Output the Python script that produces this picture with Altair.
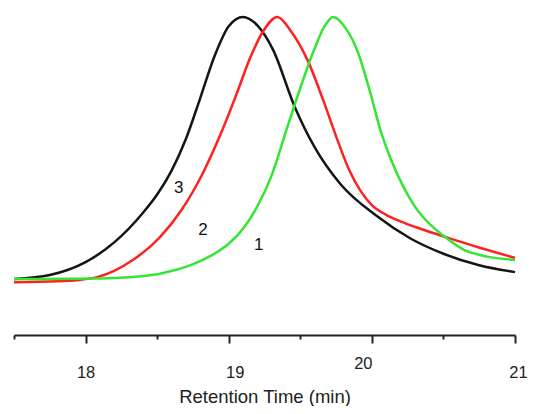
import altair as alt
import pandas as pd

# Curve 3 (black)
time_3 = [17.50, 17.75, 18.00, 18.20, 18.40, 18.50, 18.60, 18.70, 18.80, 18.90, 19.00, 19.10,
          19.20, 19.31, 19.46, 19.60, 19.78, 20.03, 20.27, 20.50, 20.75, 21.00]
signal_3 = [0.4, 1.9, 6.8, 14.3, 25.5, 32.5, 41.5, 53.5, 69.0, 85.0, 96.5, 100,
            96.8, 87.5, 66.0, 50.5, 36.5, 24.5, 15.8, 10.0, 5.6, 3.0]
# Curve 2 (red)
time_2 = [17.50, 17.80, 17.95, 18.08, 18.20, 18.33, 18.52, 18.67, 18.82, 18.94, 19.05, 19.15, 19.24, 19.34,
          19.43, 19.55, 19.66, 19.76, 19.84, 19.92, 20.00, 20.10, 20.20, 20.35, 20.50, 20.76, 21.00]
signal_2 = [-0.8, -0.5, 0.0, 1.1, 3.5, 7.6, 16.3, 26.6, 40.7, 55.0, 70.0, 84.5, 94.5, 100,
            95.0, 83.7, 68.4, 53.2, 42.0, 34.0, 28.5, 24.8, 22.3, 19.3, 16.6, 12.2, 8.4]
# Curve 1 (green)
time_1 = [17.50, 18.10, 18.50, 18.60, 18.70, 18.80, 18.90, 19.00, 19.10, 19.20, 19.30, 19.40,
          19.50, 19.60, 19.67, 19.73, 19.82, 19.90, 19.98, 20.06, 20.14, 20.22, 20.30, 20.40,
          20.50, 20.64, 20.80, 21.00]
signal_1 = [0.4, 0.6, 2.2, 3.4, 5.0, 7.2, 10.0, 13.8, 19.5, 28.0, 39.8, 56.5,
            73.0, 88.0, 96.5, 100, 95.5, 87.0, 73.0, 57.0, 45.0, 35.5, 28.0, 21.5,
            16.8, 11.6, 9.0, 7.6]

series_names = ["3", "2", "1"]
series_colors = ["#151515", "#ff2020", "#33e633"]

label_text = ["3", "2", "1"]
label_x = [18.65, 18.82, 19.21]
label_y = [35.0, 19.0, 13.3]

tick_values = [17.5, 18, 18.5, 19, 19.5, 20, 20.5, 21]

rows = []
for name, ts, ss in [("3", time_3, signal_3), ("2", time_2, signal_2), ("1", time_1, signal_1)]:
    for t, s in zip(ts, ss):
        rows.append({"time": t, "signal": s, "series": name})
df = pd.DataFrame(rows)
labels_df = pd.DataFrame({"text": label_text, "time": label_x, "signal": label_y})

x_axis = alt.Axis(
    values=tick_values,
    labelExpr="datum.value % 1 === 0 ? format(datum.value, 'd') : ''",
    tickSize={"condition": {"test": "datum.value % 1 === 0", "value": 8}, "value": 4},
    labelPadding={"condition": {"test": "datum.value === 20", "value": 12}, "value": 21.5},
    labelOffset={"condition": [
        {"test": "datum.value === 20", "value": -9},
        {"test": "datum.value === 19", "value": 6},
        {"test": "datum.value === 21", "value": 3},
    ], "value": 0},
    labelOverlap=False,
    labelFlush=False,
    grid=False,
    domainColor="#222222",
    domainWidth=2,
    tickColor="#222222",
    tickWidth=2,
    labelColor="#222222",
    labelFont="Liberation Sans",
    labelFontSize=16.5,
    title="Retention Time (min)",
    titleFont="Liberation Sans",
    titleFontSize=18.5,
    titleFontWeight="normal",
    titleColor="#222222",
    titleBaseline="alphabetic",
    titleY=67,
)

x = alt.X("time:Q", scale=alt.Scale(domain=[17.5, 21], nice=False, zero=False), axis=x_axis)
y = alt.Y("signal:Q", scale=alt.Scale(domain=[-20.9, 100], nice=False, zero=False), axis=None)

lines = alt.Chart(df).mark_line(interpolate="monotone", strokeWidth=2.5).encode(
    x=x,
    y=y,
    color=alt.Color("series:N", scale=alt.Scale(domain=series_names, range=series_colors), legend=None),
    order=alt.Order("time:Q"),
)

texts = alt.Chart(labels_df).mark_text(font="Liberation Sans", fontSize=17, color="#111111").encode(
    x=alt.X("time:Q"),
    y=alt.Y("signal:Q", axis=None),
    text="text:N",
)

chart = alt.layer(lines, texts).properties(
    width=501, height=318,
    autosize=alt.AutoSizeParams(type="none"),
    padding={"left": 6, "top": 9, "right": 13, "bottom": 71},
).configure_view(stroke=None)

chart.save("out.html", embed_options={"renderer": "svg", "actions": False})
